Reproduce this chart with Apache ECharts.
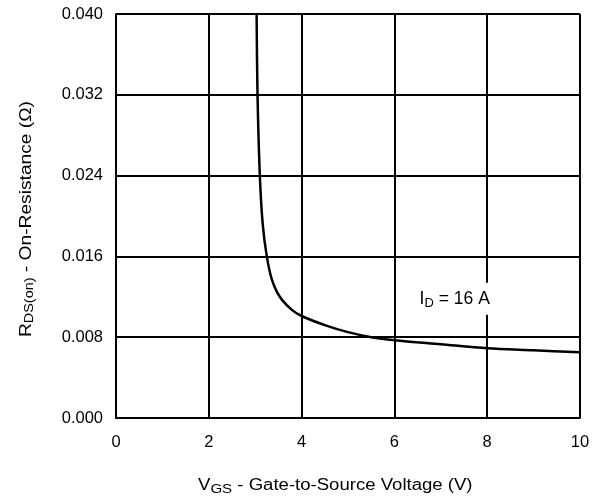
<!DOCTYPE html>
<html>
<head>
<meta charset="utf-8">
<script src="https://cdn.jsdelivr.net/npm/echarts@6/dist/echarts.min.js"></script>
<style>
  html, body { margin: 0; padding: 0; background: #fff; }
  #chart { width: 605px; height: 501px; }
</style>
</head>
<body>
<div id="chart"></div>
<script>
// Gate-to-source voltage (V) sample points along the curve
const vgs = [3.03, 3.05, 3.10, 3.16, 3.25, 3.36, 3.53, 3.79, 4.00, 4.50, 5.00, 5.50, 6.00, 7.00, 8.00, 9.00, 10.00];
// On-resistance (ohm) at those voltages, ID = 16 A
const rdsOn = [0.0400, 0.0320, 0.0240, 0.0193, 0.0160, 0.0137, 0.0120, 0.0107, 0.0101, 0.0092, 0.0085, 0.0080, 0.0077, 0.0073, 0.0069, 0.0067, 0.0065];
// Axis tick values
const xTicks = [0, 2, 4, 6, 8, 10];
const yTicks = [0.000, 0.008, 0.016, 0.024, 0.032, 0.040];

const FONT = 'Liberation Sans, Arial, sans-serif';
const chart = echarts.init(document.getElementById('chart'), null, { renderer: 'canvas' });

const axisLine = { show: true, lineStyle: { color: '#000', width: 2 } };
const gridLine = { show: true, lineStyle: { color: '#000', width: 2 } };

chart.setOption({
  animation: false,
  backgroundColor: '#fff',
  grid: { left: 116, right: 25, top: 14, bottom: 83, containLabel: false },
  xAxis: {
    type: 'value',
    min: xTicks[0], max: xTicks[xTicks.length - 1], interval: 2,
    axisLine: axisLine,
    axisTick: { show: false },
    splitLine: gridLine,
    axisLabel: { color: '#000', fontFamily: FONT, fontSize: 16.5, margin: 16 }
  },
  yAxis: {
    type: 'value',
    min: yTicks[0], max: yTicks[yTicks.length - 1], interval: 0.008,
    axisLine: axisLine,
    axisTick: { show: false },
    splitLine: gridLine,
    axisLabel: {
      color: '#000', fontFamily: FONT, fontSize: 16.5, margin: 13,
      formatter: v => v.toFixed(3)
    }
  },
  graphic: [
    {
      type: 'text', x: 198, y: 476, scaleX: 1.16,
      style: {
        text: '{n|V}{s|GS}{n| - Gate-to-Source Voltage (V)}',
        rich: {
          n: { fontFamily: FONT, fontSize: 16, fill: '#000' },
          s: { fontFamily: FONT, fontSize: 13, fill: '#000', padding: [7, 0, 0, 0] }
        }
      }
    },
    {
      type: 'text', x: 17, y: 337, rotation: Math.PI / 2, scaleX: 1.2,
      style: {
        text: '{n|R}{s|DS(on)}{n| - On-Resistance (Ω)}',
        rich: {
          n: { fontFamily: FONT, fontSize: 16, fill: '#000' },
          s: { fontFamily: FONT, fontSize: 12, fill: '#000', padding: [7, 0, 0, 0] }
        }
      }
    }
  ],
  series: [{
    type: 'line',
    data: vgs.map((v, i) => [v, rdsOn[i]]),
    smooth: 0.3,
    showSymbol: false,
    lineStyle: { color: '#000', width: 2.5 },
    markPoint: {
      symbol: 'rect', symbolSize: 0,
      data: [{
        coord: [7.3, 0.0118],
        label: {
          show: true,
          formatter: '{n|I}{s|D}{n| = 16 A}',
          backgroundColor: '#fff',
          padding: [6, 3, 5, 3],
          rich: {
            n: { fontFamily: FONT, fontSize: 17.5, color: '#000' },
            s: { fontFamily: FONT, fontSize: 13, color: '#000', padding: [8, 0, 0, 0] }
          }
        }
      }]
    }
  }]
});
</script>
</body>
</html>
